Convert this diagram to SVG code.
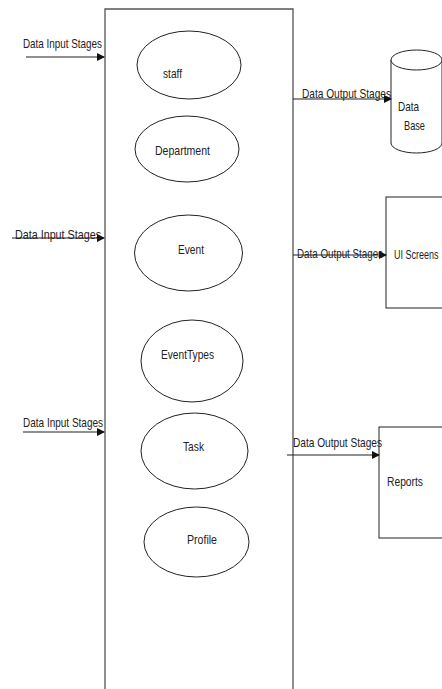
<svg xmlns="http://www.w3.org/2000/svg" width="442" height="689" viewBox="0 0 442 689">
<style>
text{font-family:"Liberation Sans",Arial,sans-serif;font-size:13.5px;fill:#222}
.sh{fill:#fff;stroke:#222;stroke-width:1}
.ln{stroke:#222;stroke-width:1.2;fill:none}
</style>
<defs>
<marker id="ah" markerWidth="8" markerHeight="8" refX="7" refY="4" orient="auto" markerUnits="userSpaceOnUse">
<path d="M0,0 L8,4 L0,8 Z" fill="#111"/>
</marker>
</defs>
<rect width="442" height="689" fill="#fff"/>
<g id="system">
<path d="M105,700 L105,9 L293,9 L293,700" fill="#fff" stroke="#555" stroke-width="1.3"/>
</g>
<g id="staff"><ellipse class="sh" cx="189" cy="65" rx="52" ry="34"/><text transform="translate(163,78) scale(0.75,1)" textLength="25.3" lengthAdjust="spacingAndGlyphs">staff</text></g>
<g id="department"><ellipse class="sh" cx="187" cy="149" rx="52" ry="33"/><text transform="translate(155,155) scale(0.75,1)" textLength="73.3" lengthAdjust="spacingAndGlyphs">Department</text></g>
<g id="event"><ellipse class="sh" cx="188.5" cy="253" rx="54" ry="38"/><text transform="translate(178,254) scale(0.75,1)" textLength="34.7" lengthAdjust="spacingAndGlyphs">Event</text></g>
<g id="eventtypes"><ellipse class="sh" cx="192" cy="361" rx="51" ry="41"/><text transform="translate(161,359) scale(0.75,1)" textLength="70.7" lengthAdjust="spacingAndGlyphs">EventTypes</text></g>
<g id="task"><ellipse class="sh" cx="194.5" cy="451" rx="53.5" ry="38"/><text transform="translate(183,451) scale(0.75,1)" textLength="28" lengthAdjust="spacingAndGlyphs">Task</text></g>
<g id="profile"><ellipse class="sh" cx="196.5" cy="542" rx="52.5" ry="35"/><text transform="translate(187,544) scale(0.75,1)" textLength="40" lengthAdjust="spacingAndGlyphs">Profile</text></g>
<g id="database">
<path class="sh" d="M391,60 L391,143 A25.5,10 0 0 0 442,143 L442,60 Z"/>
<ellipse class="sh" cx="416.5" cy="60" rx="25.5" ry="10"/>
<text transform="translate(398,111) scale(0.75,1)" textLength="28" lengthAdjust="spacingAndGlyphs">Data</text>
<text transform="translate(404,130) scale(0.75,1)" textLength="28" lengthAdjust="spacingAndGlyphs">Base</text>
</g>
<g id="uiscreens">
<rect class="sh" x="386" y="197" width="70" height="111"/>
<text transform="translate(394,259) scale(0.75,1)" textLength="59.3" lengthAdjust="spacingAndGlyphs">UI Screens</text>
</g>
<g id="reports">
<rect class="sh" x="379" y="427" width="70" height="111"/>
<text transform="translate(387,486) scale(0.75,1)" textLength="48" lengthAdjust="spacingAndGlyphs">Reports</text>
</g>
<g id="connectors">
<line class="ln" x1="26" y1="57" x2="104" y2="57" marker-end="url(#ah)"/>
<line class="ln" x1="12" y1="238" x2="104" y2="238" marker-end="url(#ah)"/>
<line class="ln" x1="23" y1="432" x2="104" y2="432" marker-end="url(#ah)"/>
<line class="ln" x1="293" y1="99" x2="391" y2="99" marker-end="url(#ah)"/>
<line class="ln" x1="293" y1="255" x2="386" y2="255" marker-end="url(#ah)"/>
<line class="ln" x1="287" y1="455" x2="379" y2="455" marker-end="url(#ah)"/>
<text transform="translate(23,48) scale(0.75,1)" textLength="105.3" lengthAdjust="spacingAndGlyphs">Data Input Stages</text>
<text transform="translate(15,239) scale(0.75,1)" textLength="114.7" lengthAdjust="spacingAndGlyphs">Data Input Stages</text>
<text transform="translate(23,427) scale(0.75,1)" textLength="106.7" lengthAdjust="spacingAndGlyphs">Data Input Stages</text>
<text transform="translate(302,98) scale(0.75,1)" textLength="118.7" lengthAdjust="spacingAndGlyphs">Data Output Stages</text>
<text transform="translate(297,258) scale(0.75,1)" textLength="114.7" lengthAdjust="spacingAndGlyphs">Data Output Stages</text>
<text transform="translate(293,447) scale(0.75,1)" textLength="118.7" lengthAdjust="spacingAndGlyphs">Data Output Stages</text>
</g>
</svg>
